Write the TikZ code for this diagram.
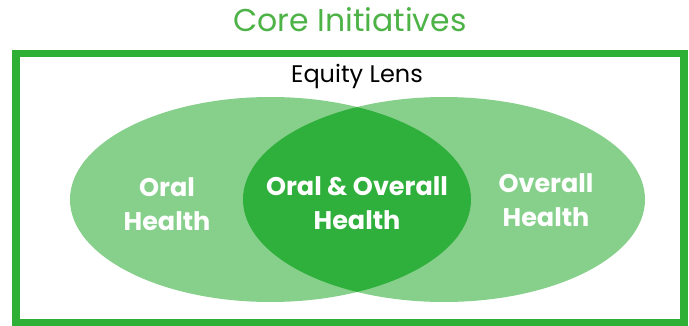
\documentclass[tikz,border=0pt]{standalone}
\usepackage{fontspec}
\setmainfont{Poppins}
\definecolor{framegreen}{HTML}{2EB036}
\definecolor{titlegreen}{HTML}{4DB346}
\definecolor{lightgreen}{HTML}{86D08B}
\definecolor{darkgreen}{HTML}{2FAF3B}

\begin{document}
\begin{tikzpicture}[x=1pt,y=-1pt]
\tikzstyle{every node}+=[inner sep=0pt]
\tikzstyle{venntext}=[white, align=center, font=\fontsize{25.5}{34}\selectfont\bfseries]
\useasboundingbox (0,0) rectangle (689,326);
\draw [framegreen, line width=7.5pt] (16,53.5) rectangle (684,322.5);
\fill [lightgreen] (270.5,199.5) ellipse (200.5 and 102.5);
\fill [lightgreen] (444,199.5) ellipse (201 and 102.5);
\begin{scope}
\clip (270.5,199.5) ellipse (200.5 and 102.5);
\fill [darkgreen] (444,199.5) ellipse (201 and 102.5);
\end{scope}
\node (title) at (350,20) {\fontsize{31.5}{34}\selectfont\color{titlegreen}Core Initiatives};
\node (lens) at (357,76) {\fontsize{24}{26}\selectfont Equity Lens};
\node [venntext] (oral) at (167,204) {Oral\\Health};
\node [venntext] (both) at (357,203) {Oral \& Overall\\Health};
\node [venntext] (overall) at (546,200) {Overall\\Health};
\end{tikzpicture}
\end{document}
